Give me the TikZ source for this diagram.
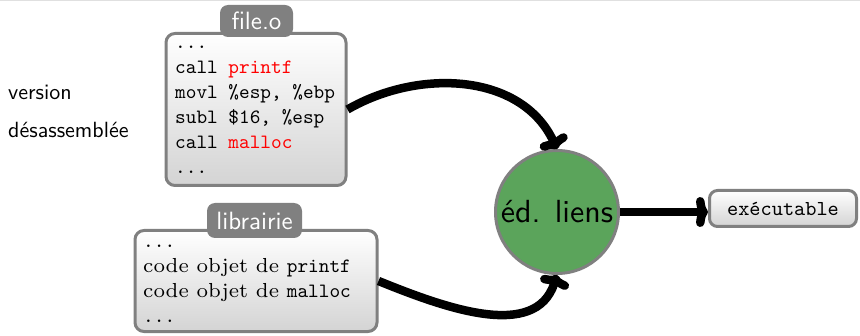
\documentclass[tikz,border=0pt]{standalone}
\usepackage{fontspec}
% small design sizes, scaled up
\setmainfont{lmroman7-regular.otf}
\setsansfont{lmsans10-regular.otf}
\setmonofont{lmmono10-regular.otf}
\usetikzlibrary{arrows.meta}
\definecolor{framegray}{RGB}{128,128,128}
\definecolor{linkgreen}{RGB}{91,164,91}
\begin{document}
\begin{tikzpicture}[x=1pt,y=1pt,
  panel/.style={draw=framegray, line width=3pt, rounded corners=9pt,
    top color=white, bottom color=black!17, inner sep=0pt},
  tabtitle/.style={fill=framegray, rounded corners=8pt, text=white, inner sep=0pt,
    font=\sffamily\fontsize{25}{25}\selectfont},
  codetext/.style={align=left, inner sep=0pt, anchor=north west,
    font=\ttfamily\fontsize{20.3}{25}\selectfont},
  sidetext/.style={anchor=west, inner sep=0pt, font=\sffamily\fontsize{22}{22}\selectfont},
  link/.style={line width=8.5pt, -{To[length=12pt,width=30pt]}},
]
\useasboundingbox (0,0) rectangle (860,335);
\draw[black!12, line width=1pt] (0,334.5) -- (860,334.5);

% side caption
\node[sidetext] (capA) at (8,243) {version};
\node[sidetext] (capB) at (8,205) {désassemblée};

% object file panel
\node[panel, minimum width=180, minimum height=152] (fileo) at (256,225.5) {};
\node[tabtitle, minimum width=73, minimum height=32] (fileotab) at (256.5,314) {file.o};
\node[codetext] (fileocode) at (175,302) {\rule{0pt}{15pt}...\\
call \textcolor{red}{printf}\\
movl \%esp, \%ebp\\
subl \$16, \%esp\\
call \textcolor{red}{malloc}\\
...};

% library panel
\node[panel, minimum width=242, minimum height=101] (libr) at (256,54) {};
\node[tabtitle, minimum width=95, minimum height=35] (librtab) at (254.5,114.5) {librairie};
\node[codetext] (librcode) at (143,103) {\rule{0pt}{15pt}...\\
\rmfamily code objet de \texttt{printf}\\
\rmfamily code objet de \texttt{malloc}\\
...};

% linker
\node[circle, draw=framegray, line width=3pt, fill=linkgreen, minimum size=123, inner sep=0pt,
  font=\sffamily\fontsize{32}{32}\selectfont] (ed) at (557,123) {éd. liens};

% result
\node[panel, rounded corners=8pt, minimum width=147, minimum height=36,
  font=\ttfamily\fontsize{21.3}{21.3}\selectfont] (exe) at (783,126.5) {exécutable};

% connectors
\draw[link] (fileo.east) to[out=30, in=115] (ed.north);
\draw[link] (libr.east) to[out=-22, in=-108] (ed.south);
\draw[link] (ed.east) -- (ed.east -| exe.west);
\end{tikzpicture}
\end{document}
